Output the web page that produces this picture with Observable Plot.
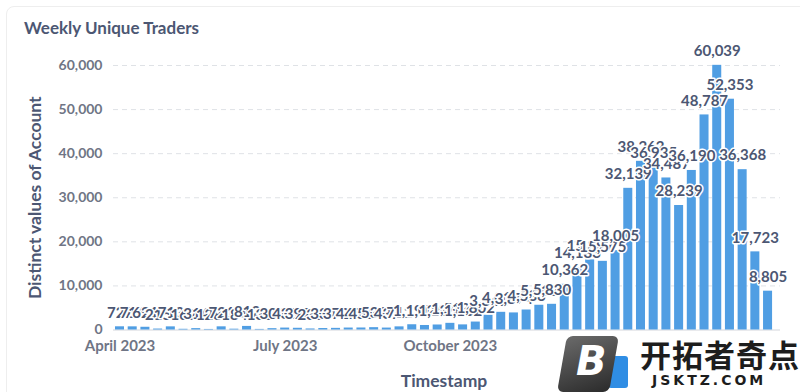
<!DOCTYPE html>
<html><head><meta charset="utf-8">
<script src="https://cdn.jsdelivr.net/npm/d3@7"></script>
<script src="https://cdn.jsdelivr.net/npm/@observablehq/plot@0.6"></script>
<style>
body{margin:0;background:#fff;font-family:Lato,sans-serif;}
#wrap{position:relative;width:800px;height:392px;overflow:hidden;background:#fff;}
#card{position:absolute;left:6px;top:6px;width:820px;height:420px;border:1px solid #eeeeee;border-radius:8px;}
#title{position:absolute;left:24px;top:17px;font:700 17px Lato;color:#4c5773;}
#chart{position:absolute;left:0;top:0;}
#chart svg g[aria-label="y-axis tick label"] text,
#chart svg g[aria-label="x-axis tick label"] text{font-weight:700;}
#logo{position:absolute;left:552px;top:334px;width:248px;height:58px;background:#fff;}
#logo .blk{position:absolute;left:10px;top:2px;width:52px;height:56px;background:linear-gradient(160deg,#6a6a6a,#2b2b2b);border-radius:6px;transform:skewX(-10deg);}
#logo .blue{position:absolute;left:56px;top:22px;width:20px;height:32px;background:#2f8de4;border-radius:3px;}
#logo .b{position:absolute;left:24px;top:4px;font:italic 900 40px "DejaVu Sans";color:#fff;}
#logo .cn{position:absolute;left:88px;top:2px;font:700 31px "Noto Sans CJK SC";color:#1d1d1d;letter-spacing:1px;line-height:36px;}
#logo .en{position:absolute;left:100px;top:38px;font:700 14px "DejaVu Sans";color:#1d1d1d;letter-spacing:3px;}
</style></head><body>
<div id="wrap">
<div id="card"></div>
<div id="chart"></div>
<div id="title">Weekly Unique Traders</div>
<div id="logo"><div class="blue"></div><div class="blk"></div><div class="b">B</div><div class="cn">开拓者奇点</div><div class="en">JSKTZ.COM</div></div>
</div>
<script>
// Weekly buckets (weeks starting Sunday), April 2023 – March 2024
const weeks = d3.utcSunday.range(new Date(Date.UTC(2023,3,2)), new Date(Date.UTC(2024,2,31))).map(d3.utcFormat("%Y-%m-%d"));
const traders = [
  727, 716, 621, 215, 713, 162, 314, 128, 721, 184,
  812, 136, 304, 438, 392, 236, 334, 372, 445, 456,
  532, 437, 712, 1191, 1024, 1136, 1513, 1162, 1802, 3341,
  4012, 3874, 4536, 5612, 5830, 10362, 14183, 15897, 15575, 18005,
  32139, 38262, 36935, 34487, 28239, 36190, 48787, 60039, 52353, 36368,
  17723, 8805
];
const yTicks = [0, 10000, 20000, 30000, 40000, 50000, 60000];
const xTickWeeks = ["2023-04-02", "2023-07-02", "2023-10-01", "2023-12-31"];
const xTickLabels = ["April 2023", "July 2023", "October 2023", "January 2024"];
const yTitle = "Distinct values of Account";
const xTitle = "Timestamp";

const rows = weeks.map((w, i) => ({week: w, value: traders[i]}));
const tickLabel = new Map(xTickWeeks.map((w, i) => [w, xTickLabels[i]]));
const fmt = d3.format(",");

const chart = Plot.plot({
  width: 800, height: 392,
  marginLeft: 113, marginRight: 20, marginTop: 65, marginBottom: 62.5,
  style: {fontFamily: "Lato", background: "transparent", overflow: "visible"},
  x: {type: "band", domain: weeks, paddingInner: 0.29, paddingOuter: 0.39, align: 0.2},
  y: {domain: [0, 60000]},
  marks: [
    Plot.gridY(yTicks.slice(1), {stroke: "#dfe2e6", strokeOpacity: 1, strokeDasharray: "5,4"}),
    Plot.ruleY([0], {stroke: "#d3d6db"}),
    Plot.barY(rows, {x: "week", y: "value", fill: "#509ee3"}),
    Plot.text(rows, {x: "week", y: "value", text: d => fmt(d.value), dy: -14,
      fill: "#4c5773", stroke: "white", strokeWidth: 3, fontSize: 15, fontWeight: 700}),
    Plot.axisY({ticks: yTicks, tickSize: 0, tickPadding: 11, tickFormat: fmt, label: null,
      fontSize: 14, fill: "#6f7585"}),
    Plot.axisX({ticks: xTickWeeks, tickSize: 0, tickPadding: 10, tickFormat: d => tickLabel.get(d),
      label: null, fontSize: 15, fill: "#6f7585"}),
    Plot.text([yTitle], {frameAnchor: "left", textAnchor: "middle", dx: -78, rotate: -90,
      fontSize: 17.5, fontWeight: 700, fill: "#4c5773"}),
    Plot.text([xTitle], {frameAnchor: "bottom", lineAnchor: "middle", dx: -3, dy: 51,
      fontSize: 17.5, fontWeight: 700, fill: "#4c5773"})
  ]
});
document.getElementById("chart").appendChild(chart);
</script>
</body></html>
